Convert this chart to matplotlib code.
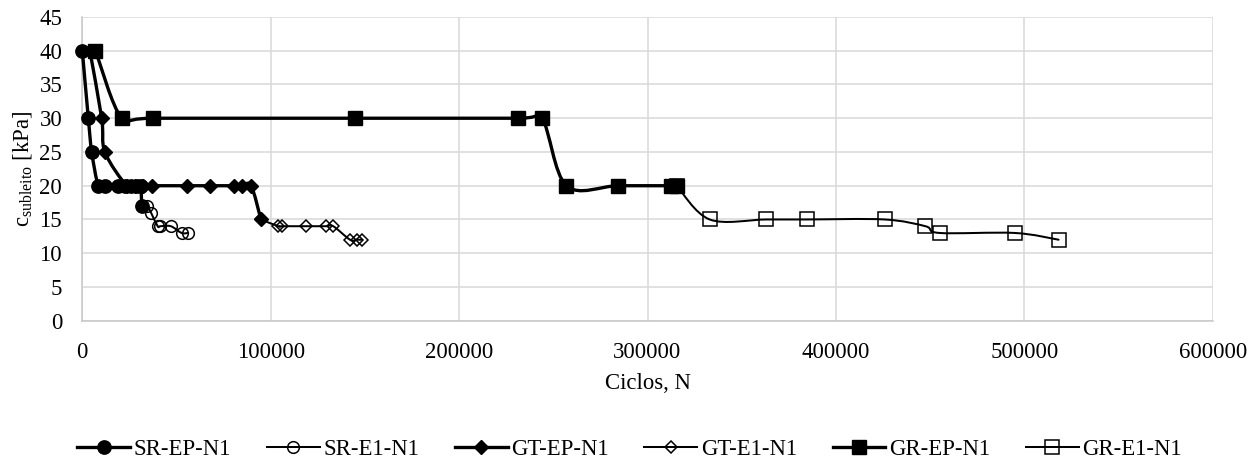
import numpy as np
import matplotlib
matplotlib.use("Agg")
import matplotlib.pyplot as plt
from matplotlib.path import Path
from matplotlib.patches import PathPatch
from matplotlib.lines import Line2D

plt.rcParams["font.family"] = ["Liberation Serif", "DejaVu Serif"]
plt.rcParams["mathtext.fontset"] = "custom"
plt.rcParams["mathtext.rm"] = "Liberation Serif"
plt.rcParams["mathtext.it"] = "Liberation Serif:italic"

# ---- data: number of cycles N and subgrade cohesion c [kPa] ----
sr_ep_n = [0, 3200, 5000, 8500, 12000, 19000, 22500, 26000, 29000, 31000, 31500]
sr_ep_c = [40, 30, 25, 20, 20, 20, 20, 20, 20, 20, 17]

sr_e1_n = [31500, 34500, 36500, 40000, 41500, 47000, 52700, 56000]
sr_e1_c = [17, 17, 16, 14, 14, 14, 13, 13]

gt_ep_n = [4000, 10300, 12000, 23500, 28000, 32000, 36800, 55400, 67800, 80700, 84600, 89600, 94800]
gt_ep_c = [40, 30, 25, 20, 20, 20, 20, 20, 20, 20, 20, 20, 15]

gt_e1_n = [94800, 104000, 106000, 118700, 129400, 133200, 142100, 145600, 148300]
gt_e1_c = [15, 14, 14, 14, 14, 14, 12, 12, 12]

gr_ep_n = [7000, 20900, 37600, 145000, 231500, 244000, 257000, 284400, 312500, 315500]
gr_ep_c = [40, 30, 30, 30, 30, 30, 20, 20, 20, 20]

gr_e1_n = [315500, 333000, 363000, 384500, 425800, 447500, 455000, 495000, 518200]
gr_e1_c = [20, 15, 15, 15, 15, 14, 13, 13, 12]

x_ticks = [0, 100000, 200000, 300000, 400000, 500000, 600000]
y_ticks = [0, 5, 10, 15, 20, 25, 30, 35, 40, 45]

labels = ["SR-EP-N1", "SR-E1-N1", "GT-EP-N1", "GT-E1-N1", "GR-EP-N1", "GR-E1-N1"]
data = [(sr_ep_n, sr_ep_c), (sr_e1_n, sr_e1_c), (gt_ep_n, gt_ep_c),
        (gt_e1_n, gt_e1_c), (gr_ep_n, gr_ep_c), (gr_e1_n, gr_e1_c)]

# ---- styles ----
THICK, THIN = 2.4, 1.45
styles = [
    dict(marker="o", ms=9.6, mfc="black", lw=THICK, mew=1.0),
    dict(marker="o", ms=8.4, mfc="none", lw=THIN, mew=1.1),
    dict(marker="D", ms=6.8, mfc="black", lw=THICK, mew=1.0),
    dict(marker="D", ms=6.4, mfc="none", lw=THIN, mew=1.1),
    dict(marker="s", ms=10.0, mfc="black", lw=THICK, mew=1.0),
    dict(marker="s", ms=9.4, mfc="none", lw=THIN, mew=1.1),
]
FS = 16.4


def smooth_path(xs, ys):
    """Cubic Bezier path through the points (Catmull-Rom style tangents)."""
    pts = np.column_stack([xs, ys]).astype(float)
    n = len(pts)
    verts = [pts[0]]
    codes = [Path.MOVETO]
    for i in range(n - 1):
        p0 = pts[i - 1] if i > 0 else pts[i]
        p1 = pts[i]
        p2 = pts[i + 1]
        p3 = pts[i + 2] if i + 2 < n else pts[i + 1]
        c1 = p1 + (p2 - p0) / 6.0
        c2 = p2 - (p3 - p1) / 6.0
        verts += [c1, c2, p2]
        codes += [Path.CURVE4] * 3
    return Path(verts, codes)


W, H = 1259, 461
fig = plt.figure(figsize=(W / 100, H / 100), dpi=100)
left, right, top, bottom = 82.3, 1212.7, 17.0, 320.7
ax = fig.add_axes([left / W, 1 - bottom / H, (right - left) / W, (bottom - top) / H])

ax.set_xlim(0, 600000)
ax.set_ylim(0, 45)
ax.set_xticks(x_ticks)
ax.set_xticklabels([str(t) for t in x_ticks])
ax.set_yticks(y_ticks)
ax.set_yticklabels([str(t) for t in y_ticks])
ax.tick_params(axis="both", length=0, labelsize=FS)
ax.tick_params(axis="x", pad=15.0)
ax.tick_params(axis="y", pad=14.5)

ax.grid(True, color="#d9d9d9", lw=1.1)
ax.set_axisbelow(True)
for s in ["top", "right"]:
    ax.spines[s].set_visible(False)
for s in ["left", "bottom"]:
    ax.spines[s].set_color("#c8c8c8")
    ax.spines[s].set_linewidth(1.1)

handles = []
z = 3
for (n, c), st, lab in zip(data, styles, labels):
    patch = PathPatch(smooth_path(n, c), fill=False, edgecolor="black",
                      lw=st["lw"], joinstyle="round", capstyle="round",
                      clip_on=False, zorder=z)
    ax.add_patch(patch)
    ax.plot(n, c, ls="none", marker=st["marker"], ms=st["ms"],
            mfc=st["mfc"], mec="black", mew=st["mew"], clip_on=False,
            zorder=z + 0.5)
    z += 1
    handles.append(Line2D([], [], color="black", lw=st["lw"], marker=st["marker"],
                          ms=st["ms"], mfc=st["mfc"], mec="black", mew=st["mew"]))

ax.set_xlabel("Ciclos, N", fontsize=FS, labelpad=7.5)
fig.text(23 / W, 1 - 169 / H, r"c$_{\mathrm{subleito}}$ [kPa]", rotation=90,
         ha="center", va="center", fontsize=FS)

fig.legend(handles, labels, loc="center", bbox_to_anchor=(0.5, 1 - 449 / H),
           ncol=6, frameon=False, fontsize=FS, handlelength=2.32,
           handletextpad=0.15, columnspacing=1.57, numpoints=1)

fig.savefig("out.png", dpi=100)
